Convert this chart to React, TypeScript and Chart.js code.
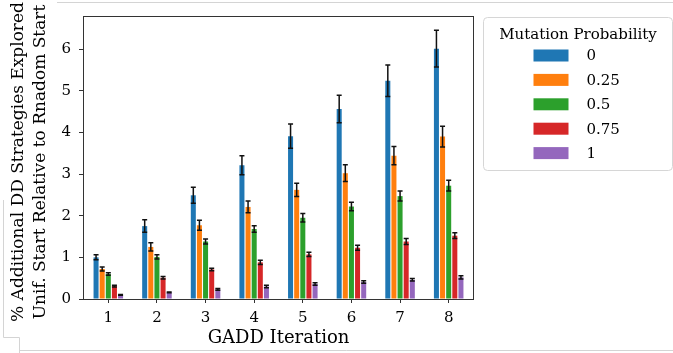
import { useEffect, useRef } from 'react';
import { Chart, registerables } from 'chart.js';
Chart.register(...registerables);

const categories = ['1', '2', '3', '4', '5', '6', '7', '8'];
const seriesLabels = ['0', '0.25', '0.5', '0.75', '1'];
const seriesColors = ['#1f77b4', '#ff7f0e', '#2ca02c', '#d62728', '#9467bd'];

const prob0 = [1.0, 1.75, 2.49, 3.21, 3.91, 4.56, 5.24, 6.01];
const prob0Err = [0.06, 0.15, 0.19, 0.23, 0.29, 0.33, 0.38, 0.44];
const prob025 = [0.72, 1.25, 1.77, 2.21, 2.62, 3.02, 3.44, 3.9];
const prob025Err = [0.05, 0.1, 0.12, 0.14, 0.16, 0.2, 0.22, 0.25];
const prob05 = [0.6, 1.01, 1.38, 1.68, 1.95, 2.22, 2.47, 2.72];
const prob05Err = [0.03, 0.05, 0.06, 0.08, 0.1, 0.1, 0.12, 0.13];
const prob075 = [0.31, 0.51, 0.71, 0.88, 1.07, 1.23, 1.38, 1.52];
const prob075Err = [0.02, 0.03, 0.03, 0.05, 0.05, 0.06, 0.07, 0.07];
const prob1 = [0.1, 0.16, 0.23, 0.3, 0.36, 0.41, 0.46, 0.52];
const prob1Err = [0.01, 0.01, 0.02, 0.03, 0.03, 0.03, 0.03, 0.04];

const yTicks = [0, 1, 2, 3, 4, 5, 6];
const yMax = 6.77;
const xTitle = 'GADD Iteration';
const yTitleLines = ['% Additional DD Strategies Explored', 'Unif. Start Relative to Rnadom Start'];
const legendTitle = 'Mutation Probability';

const seriesValues = [prob0, prob025, prob05, prob075, prob1];
const seriesErrors = [prob0Err, prob025Err, prob05Err, prob075Err, prob1Err];

const FONT = "'DejaVu Serif', serif";

const decorPlugin = {
  id: 'decor',
  beforeDraw(chart: any) {
    const ctx = chart.ctx;
    ctx.save();
    ctx.fillStyle = '#ffffff';
    ctx.fillRect(0, 0, chart.width, chart.height);
    ctx.strokeStyle = '#d4d4d4';
    ctx.lineWidth = 1;
    ctx.beginPath();
    ctx.moveTo(57, 2.5);
    ctx.lineTo(chart.width, 2.5);
    ctx.moveTo(3.5, 200);
    ctx.lineTo(3.5, 337.5);
    ctx.lineTo(19.5, 337.5);
    ctx.lineTo(19.5, chart.height);
    ctx.moveTo(19.5, 350.5);
    ctx.lineTo(chart.width, 350.5);
    ctx.stroke();
    ctx.restore();
  },
  afterDatasetsDraw(chart: any) {
    const ctx = chart.ctx;
    const yScale = chart.scales.y;
    ctx.save();
    ctx.strokeStyle = '#111111';
    ctx.lineWidth = 1.5;
    chart.data.datasets.forEach((ds: any, i: number) => {
      const meta = chart.getDatasetMeta(i);
      meta.data.forEach((bar: any, j: number) => {
        const v = ds.data[j];
        const e = ds.errors[j];
        const x = bar.x;
        const yt = yScale.getPixelForValue(v + e);
        const yb = yScale.getPixelForValue(v - e);
        ctx.beginPath();
        ctx.moveTo(x, yt);
        ctx.lineTo(x, yb);
        ctx.moveTo(x - 2.5, yt);
        ctx.lineTo(x + 2.5, yt);
        ctx.moveTo(x - 2.5, yb);
        ctx.lineTo(x + 2.5, yb);
        ctx.stroke();
      });
    });
    ctx.restore();
  },
  afterDraw(chart: any) {
    const ctx = chart.ctx;
    const a = chart.chartArea;
    ctx.save();
    // spines
    ctx.strokeStyle = '#333333';
    ctx.lineWidth = 1;
    ctx.strokeRect(Math.round(a.left) - 0.5, Math.round(a.top) - 0.5, Math.round(a.right - a.left) + 1, Math.round(a.bottom - a.top) + 1);

    // y title
    ctx.fillStyle = '#000000';
    ctx.font = `17px ${FONT}`;
    ctx.textAlign = 'center';
    ctx.textBaseline = 'middle';
    const cy = (a.top + a.bottom) / 2 + 4;
    yTitleLines.forEach((line, i) => {
      ctx.save();
      ctx.translate(18.5 + i * 22, cy);
      ctx.rotate(-Math.PI / 2);
      ctx.fillText(line, 0, 0);
      ctx.restore();
    });

    // legend
    const bx = a.right + 10.5;
    const by = 17.5;
    const bw = 189;
    const bh = 153;
    const r = 4;
    ctx.beginPath();
    ctx.moveTo(bx + r, by);
    ctx.lineTo(bx + bw - r, by);
    ctx.arcTo(bx + bw, by, bx + bw, by + r, r);
    ctx.lineTo(bx + bw, by + bh - r);
    ctx.arcTo(bx + bw, by + bh, bx + bw - r, by + bh, r);
    ctx.lineTo(bx + r, by + bh);
    ctx.arcTo(bx, by + bh, bx, by + bh - r, r);
    ctx.lineTo(bx, by + r);
    ctx.arcTo(bx, by, bx + r, by, r);
    ctx.closePath();
    ctx.fillStyle = 'rgba(255,255,255,0.8)';
    ctx.fill();
    ctx.strokeStyle = '#d6d6d6';
    ctx.stroke();

    ctx.fillStyle = '#000000';
    ctx.font = `15px ${FONT}`;
    ctx.textAlign = 'center';
    ctx.textBaseline = 'middle';
    ctx.fillText(legendTitle, bx + bw / 2, 35);
    ctx.textAlign = 'left';
    chart.data.datasets.forEach((ds: any, i: number) => {
      const y = 55.5 + i * 24.4;
      ctx.fillStyle = ds.backgroundColor;
      ctx.fillRect(bx + 50, y - 6, 35, 12);
      ctx.fillStyle = '#000000';
      ctx.fillText(ds.label, bx + 103, y + 1);
    });
    ctx.restore();
  },
};

export default function App() {
  const canvasRef = useRef<HTMLCanvasElement>(null);

  useEffect(() => {
    const canvas = canvasRef.current;
    if (!canvas) return;
    const chart = new Chart(canvas, {
      type: 'bar',
      data: {
        labels: categories,
        datasets: seriesLabels.map((label, i) => ({
          label,
          data: seriesValues[i],
          errors: seriesErrors[i],
          backgroundColor: seriesColors[i],
          borderWidth: 0,
          barPercentage: 0.82,
          categoryPercentage: 0.63,
        })) as any,
      },
      options: {
        responsive: false,
        animation: false,
        devicePixelRatio: 1,
        layout: { padding: { left: 0, top: 9, right: 200, bottom: 0 } },
        plugins: {
          legend: { display: false },
          tooltip: { enabled: false },
        },
        scales: {
          x: {
            type: 'category',
            offset: true,
            border: { display: false },
            grid: {
              offset: false,
              drawOnChartArea: false,
              drawTicks: true,
              tickLength: 4,
              color: '#333333',
            },
            ticks: {
              color: '#000000',
              padding: 6,
              font: { family: FONT, size: 15 },
            },
            title: {
              display: true,
              text: xTitle,
              color: '#000000',
              font: { family: FONT, size: 18 },
              padding: { top: 0, bottom: 4 },
            },
            afterFit: (scale: any) => {
              scale.height = 54;
            },
          },
          y: {
            type: 'linear',
            min: 0,
            max: yMax,
            border: { display: false },
            grid: {
              drawOnChartArea: false,
              drawTicks: true,
              tickLength: 5,
              color: '#333333',
            },
            ticks: {
              color: '#000000',
              padding: 8,
              font: { family: FONT, size: 15 },
            },
            afterBuildTicks: (scale: any) => {
              scale.ticks = yTicks.map((v) => ({ value: v }));
            },
            afterFit: (scale: any) => {
              scale.width = 84;
            },
          },
        },
      },
      plugins: [decorPlugin],
    });
    return () => chart.destroy();
  }, []);

  return (
    <div style={{ position: 'fixed', left: 0, top: 0, width: 673, height: 353, background: '#fff' }}>
      <canvas ref={canvasRef} width={673} height={353} style={{ display: 'block' }} />
    </div>
  );
}
